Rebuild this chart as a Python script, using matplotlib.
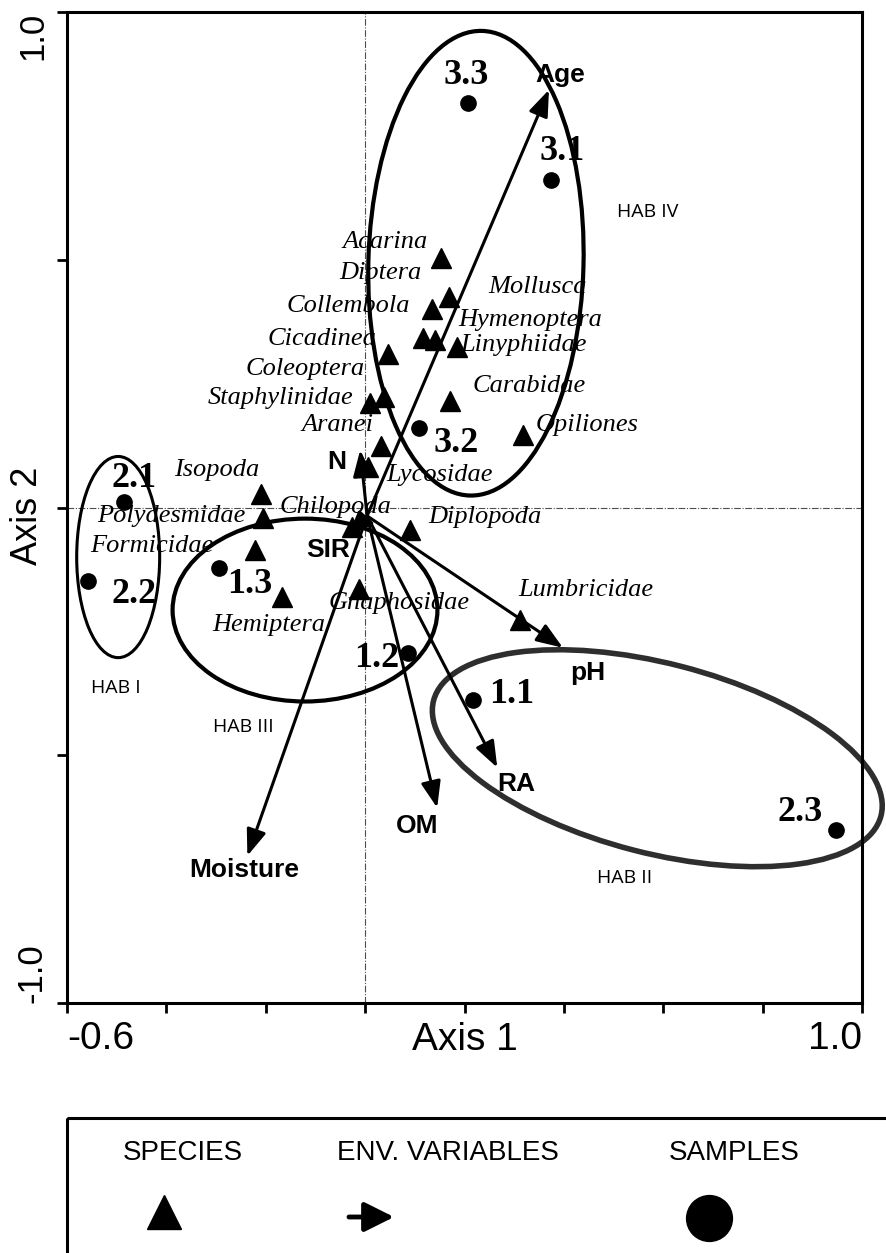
import matplotlib
matplotlib.use('Agg')
import matplotlib.pyplot as plt
from matplotlib.patches import Ellipse, Rectangle

# species scores (axis 1, axis 2)
species = ['Acarina', 'Diptera', 'Collembola', 'Cicadinea', 'Coleoptera',
           'Staphylinidae', 'Aranei', 'Lycosidae', 'Mollusca', 'Hymenoptera',
           'Linyphiidae', 'Carabidae', 'Opiliones', 'Isopoda', 'Polydesmidae',
           'Chilopoda', 'Formicidae', 'Hemiptera', 'Gnaphosidae', 'Diplopoda',
           'Lumbricidae']
species_x = [0.152, 0.116, 0.135, 0.047, 0.037, 0.010, 0.032, 0.006, 0.168, 0.141,
             0.185, 0.171, 0.317, -0.210, -0.205, -0.026, -0.221, -0.168, -0.013,
             0.091, 0.312]
species_y = [0.503, 0.343, 0.400, 0.310, 0.224, 0.211, 0.124, 0.082, 0.425, 0.338,
             0.323, 0.214, 0.146, 0.027, -0.022, -0.039, -0.086, -0.180, -0.165,
             -0.045, -0.227]

# sample scores
samples = ['3.3', '3.1', '3.2', '2.1', '2.2', '1.3', '1.2', '1.1', '2.3']
sample_x = [0.207, 0.374, 0.109, -0.485, -0.558, -0.294, 0.087, 0.217, 0.948]
sample_y = [0.816, 0.661, 0.160, 0.011, -0.148, -0.122, -0.294, -0.388, -0.651]

# environmental variables (arrow tips)
env = ['Age', 'N', 'SIR', 'Moisture', 'OM', 'RA', 'pH']
env_x = [0.370, -0.010, -0.035, -0.237, 0.145, 0.266, 0.398]
env_y = [0.843, 0.116, -0.060, -0.703, -0.606, -0.525, -0.283]
env_x0, env_y0 = 0.004, -0.017

# habitat groups (drawn envelopes)
habs = ['HAB I', 'HAB II', 'HAB III', 'HAB IV']
hab_cx = [-0.497, 0.588, -0.121, 0.223]
hab_cy = [-0.100, -0.506, -0.207, 0.493]
hab_w = [0.167, 0.930, 0.533, 0.433]
hab_h = [0.406, 0.383, 0.369, 0.938]
hab_angle = [0, -14.5, 0, -1.5]
hab_lx = [-0.501, 0.523, -0.245, 0.568]
hab_ly = [-0.364, -0.748, -0.443, 0.596]

# label offsets in pixels
sp_off = [(-56, 16), (-42, 65), (-84, 3), (-67, 15), (-78, 28), (-90, 5), (-44, 21),
          (71, -8), (89, 10), (95, 20), (67, 2), (79, 15), (64, 10), (-44, 24),
          (-92, 2), (-17, 20), (-103, 4), (-13, -28), (40, -14), (75, 13), (66, 30)]
sa_off = [(-2, 28), (11, 28), (37, -15), (10, 24), (46, -14), (31, -17), (-32, -5),
          (39, 5), (-36, 18)]
env_off = [(11, 15), (-23, -12), (-20, -13), (-3, -14), (-20, -18), (19, -16), (25, -25)]

hab_lw = [2.2, 4.0, 3.0, 3.0]
hab_col = ['black', '#2e2e2e', 'black', 'black']

fig = plt.figure(figsize=(8.86, 12.53), dpi=100)
ax = fig.add_axes([67/886, 1-1003/1253, 795/886, 991/1253])
ax.set_xlim(-0.6, 1.0)
ax.set_ylim(-1.0, 1.0)

ax.axhline(0, color='0.3', lw=0.8, ls=(0, (6, 1.5, 1, 1.5)), zorder=1)
ax.axvline(0, color='0.3', lw=0.8, ls=(0, (6, 1.5, 1, 1.5)), zorder=1)

for i in range(len(habs)):
    e = Ellipse((hab_cx[i], hab_cy[i]), hab_w[i], hab_h[i], angle=hab_angle[i],
                fill=False, lw=hab_lw[i], ec=hab_col[i], clip_on=False, zorder=2)
    ax.add_patch(e)
    ax.text(hab_lx[i], hab_ly[i], habs[i], fontsize=14, family='Open Sans',
            ha='center', va='center')

for i in range(len(env)):
    ax.annotate('', xy=(env_x[i], env_y[i]), xytext=(env_x0, env_y0),
                arrowprops=dict(arrowstyle='-|>,head_length=0.8,head_width=0.3',
                                lw=2.2, color='black', mutation_scale=20,
                                shrinkA=0, shrinkB=0), zorder=3)
    ax.annotate(env[i], (env_x[i], env_y[i]), xytext=env_off[i],
                textcoords='offset pixels', ha='center', va='center',
                fontsize=19, fontweight='bold', family='Liberation Sans')

ax.plot(species_x, species_y, '^', color='black', ms=15, zorder=4)
for i in range(len(species)):
    ax.annotate(species[i], (species_x[i], species_y[i]), xytext=sp_off[i],
                textcoords='offset pixels', ha='center', va='center',
                fontsize=19, fontstyle='italic', family='Liberation Serif')

ax.plot(sample_x, sample_y, 'o', color='black', ms=11, zorder=4)
for i in range(len(samples)):
    ax.annotate(samples[i], (sample_x[i], sample_y[i]), xytext=sa_off[i],
                textcoords='offset pixels', ha='center', va='center',
                fontsize=26, fontweight='bold', family='Liberation Serif')

for s in ax.spines.values():
    s.set_linewidth(2.2)
ax.set_xticks([-0.6, -0.4, -0.2, 0.0, 0.2, 0.4, 0.6, 0.8, 1.0])
ax.set_xticklabels(['-0.6', '', '', '', '', '', '', '', '1.0'])
ax.set_yticks([-1.0, -0.5, 0.0, 0.5, 1.0])
ax.set_yticklabels(['-1.0', '', '', '', '1.0'])
ax.tick_params(direction='out', length=7, width=2, labelsize=28, pad=6)
ax.tick_params(axis='y', labelsize=25)
xl = ax.get_xticklabels()
xl[0].set_ha('left')
xl[-1].set_ha('right')
yl = ax.get_yticklabels()
for t in yl:
    t.set_rotation(90)
yl[0].set_va('bottom')
yl[-1].set_va('top')
for t in xl + yl:
    t.set_family('Liberation Sans')

ax.set_xlabel('Axis 1', fontsize=28, family='Liberation Sans')
ax.xaxis.set_label_coords(0.5, -0.019)
ax.set_ylabel('Axis 2', fontsize=26, family='Liberation Sans')
ax.yaxis.set_label_coords(-0.028, 0.492)

# legend box at the bottom
lg = fig.add_axes([0, 0, 1, 1])
lg.set_xlim(0, 886)
lg.set_ylim(1253, 0)
lg.axis('off')
lg.add_patch(Rectangle((67, 1118), 900, 200, fill=False, lw=2.2, ec='black'))
lg.text(183, 1153, 'SPECIES', fontsize=20, family='Liberation Sans', ha='center', va='center')
lg.text(448, 1153, 'ENV. VARIABLES', fontsize=20, family='Liberation Sans', ha='center', va='center')
lg.text(734, 1153, 'SAMPLES', fontsize=20, family='Liberation Sans', ha='center', va='center')
lg.plot([164], [1212], '^', color='black', ms=25)
lg.annotate('', xy=(394, 1217), xytext=(349, 1217),
            arrowprops=dict(arrowstyle='-|>,head_length=0.9,head_width=0.45',
                            lw=3.5, color='black', mutation_scale=20,
                            shrinkA=0, shrinkB=0))
lg.plot([709], [1218], 'o', color='black', ms=33)

fig.savefig('out.png', dpi=100)
